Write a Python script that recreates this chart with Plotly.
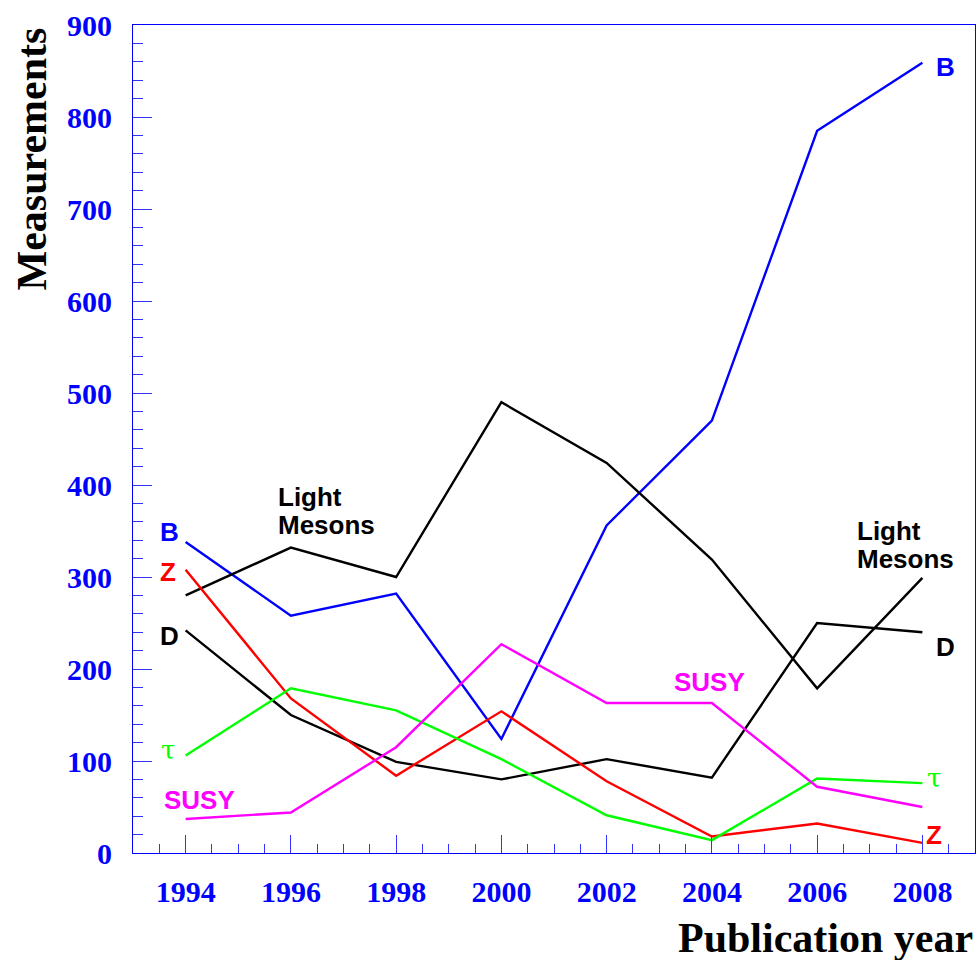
import plotly.graph_objects as go

years = [1994, 1996, 1998, 2000, 2002, 2004, 2006, 2008]
B = [338, 258, 282, 124, 356, 470, 785, 859]
light_mesons = [280, 332, 300, 490, 424, 319, 179, 299]
D = [242, 150, 99, 80, 102, 82, 250, 240]
Z = [308, 168, 84, 154, 78, 18, 32, 11]
tau = [106, 179, 155, 102, 41, 14, 81, 76]
SUSY = [37, 44, 115, 227, 163, 163, 72, 50]

series = [
    ("B", B, "#0000ff"),
    ("Light Mesons", light_mesons, "#000000"),
    ("D", D, "#000000"),
    ("Z", Z, "#ff0000"),
    ("tau", tau, "#00ff00"),
    ("SUSY", SUSY, "#ff00ff"),
]

fig = go.Figure()
for name, vals, col in series:
    fig.add_trace(go.Scatter(x=years, y=vals, mode="lines", name=name,
                             line=dict(color=col, width=2.4)))

sans = "Liberation Sans"
serif = "Liberation Serif"

def lab(text, x, y, color, xanchor="center", family=sans, bold=True, size=26):
    t = f"<b>{text}</b>" if bold else text
    fig.add_annotation(x=x, y=y, text=t, showarrow=False, xanchor=xanchor,
                       yanchor="middle", font=dict(family=family, size=size, color=color))

lab("B", 1993.70, 349, "#0000ff")
lab("Z", 1993.67, 305, "#ff0000")
lab("D", 1993.70, 236, "#000000")
lab("τ", 1993.67, 112, "#00ff00", family="DejaVu Serif", bold=False, size=26)
lab("SUSY", 1994.27, 58, "#ff00ff")
lab("Light", 1995.72, 387, "#000000", xanchor="left")
lab("Mesons", 1995.72, 357, "#000000", xanchor="left")
lab("SUSY", 2003.95, 186, "#ff00ff")
lab("Light", 2006.72, 350, "#000000", xanchor="left")
lab("Mesons", 2006.72, 320, "#000000", xanchor="left")
lab("D", 2008.43, 224, "#000000")
lab("τ", 2008.22, 81, "#00ff00", family="DejaVu Serif", bold=False, size=26)
lab("Z", 2008.22, 20, "#ff0000")
lab("B", 2008.43, 854, "#0000ff")

fig.add_annotation(xref="paper", yref="paper", x=1.0, y=-0.103, xanchor="right",
                   yanchor="middle", text="<b>Publication year</b>", showarrow=False,
                   font=dict(family=serif, size=42, color="black"))
fig.add_annotation(xref="paper", yref="paper", x=-0.12, y=1.0, xanchor="center",
                   yanchor="top", textangle=-90, text="<b>Measurements</b>",
                   showarrow=False, font=dict(family=serif, size=42, color="black"))

axis_common = dict(showgrid=False, zeroline=False, showline=True, linecolor="#0000ff",
                   linewidth=1, mirror=True, ticks="inside", tickcolor="#3333ff",
                   automargin=False,
                   tickfont=dict(family=serif, size=30, color="#0000ff", weight="bold"))

fig.update_xaxes(range=[1993, 2009], tick0=1994, dtick=2, ticklen=18, tickwidth=1,
                 ticklabelstandoff=12,
                 minor=dict(dtick=0.5, ticklen=9, ticks="inside", tickcolor="#3333ff"),
                 tickformat="d", **axis_common)
fig.update_yaxes(range=[0, 900], tick0=0, dtick=100, ticklen=19, tickwidth=1,
                 ticklabelstandoff=14,
                 minor=dict(dtick=20, ticklen=10, ticks="inside", tickcolor="#3333ff"),
                 **axis_common)

fig.update_layout(width=980, height=960, showlegend=False,
                  margin=dict(l=133, r=5, t=25, b=107),
                  plot_bgcolor="white", paper_bgcolor="white")

fig.write_html("out.html", config={"displayModeBar": False},
               post_script="document.body.style.margin='0';document.body.style.overflow='hidden';")
